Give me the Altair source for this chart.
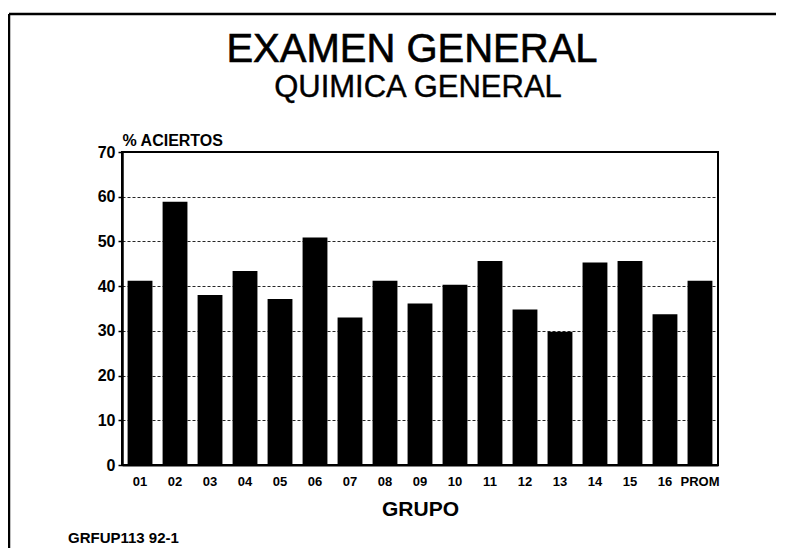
import altair as alt
import pandas as pd

# --- data ---
grupos = ["01", "02", "03", "04", "05", "06", "07", "08", "09", "10",
          "11", "12", "13", "14", "15", "16", "PROM"]
aciertos = [41.2, 58.9, 38.0, 43.4, 37.1, 50.9, 33.0, 41.2, 36.1, 40.3,
            45.6, 34.8, 29.8, 45.3, 45.6, 33.7, 41.2]
y_ticks = [0, 10, 20, 30, 40, 50, 60, 70]

titulo = "EXAMEN GENERAL"
subtitulo = "QUIMICA GENERAL"
pie = "GRFUP113 92-1"

FONT = "Liberation Sans"
W, H = 596, 313

df = pd.DataFrame({"grupo": grupos, "pct": aciertos})

bars = alt.Chart(df).mark_bar(color="black").encode(
    x=alt.X("grupo:N", sort=None,
            scale=alt.Scale(paddingInner=0.29, paddingOuter=0.16),
            axis=alt.Axis(title="GRUPO", labelAngle=0, ticks=False,
                          labelFont=FONT, labelFontWeight="bold", labelFontSize=13,
                          labelColor="black", labelPadding=10,
                          domainColor="black", domainWidth=2,
                          titleFont=FONT, titleFontWeight="bold", titleFontSize=21,
                          titleColor="black", titleY=50, titleBaseline="alphabetic",
                          grid=False)),
    y=alt.Y("pct:Q",
            scale=alt.Scale(domain=[0, 70], nice=False),
            axis=alt.Axis(title="% ACIERTOS", values=y_ticks,
                          labelFont=FONT, labelFontWeight="bold", labelFontSize=16,
                          labelColor="black", labelPadding=3,
                          tickSize=4, tickColor="black", tickWidth=1.5,
                          domainColor="black", domainWidth=2.5,
                          grid=True, gridColor="black", gridDash=[3, 2],
                          gridWidth=1.2, gridOpacity=0.85,
                          titleAngle=0, titleAlign="left", titleX=0, titleY=-7,
                          titleBaseline="alphabetic",
                          titleFont=FONT, titleFontWeight="bold", titleFontSize=16,
                          titleColor="black")),
)

one = lambda s: pd.DataFrame({"t": [s]})

title_txt = alt.Chart(one(titulo)).mark_text(
    font=FONT, fontSize=40, color="black", align="center", baseline="alphabetic",
    stroke="black", strokeWidth=0.6
).encode(text="t:N", x=alt.value(290), y=alt.value(-90))

sub_txt = alt.Chart(one(subtitulo)).mark_text(
    font=FONT, fontSize=31, color="black", align="center", baseline="alphabetic",
    stroke="black", strokeWidth=0.4
).encode(text="t:N", x=alt.value(296), y=alt.value(-55))

foot_txt = alt.Chart(one(pie)).mark_text(
    font=FONT, fontSize=15, fontWeight="bold", color="black", align="left",
    baseline="alphabetic"
).encode(text="t:N", x=alt.value(-54), y=alt.value(391))

frame_top = alt.Chart(one("a")).mark_rule(color="black", strokeWidth=2.5).encode(
    x=alt.value(-113), x2=alt.value(654), y=alt.value(-138))
frame_left = alt.Chart(one("b")).mark_rule(color="black", strokeWidth=2.5).encode(
    x=alt.value(-113), y=alt.value(-138), y2=alt.value(396))

chart = alt.layer(bars, title_txt, sub_txt, foot_txt, frame_top, frame_left).properties(
    width=W, height=H,
    autosize=alt.AutoSizeParams(type="none"),
    padding={"left": 114, "top": 144, "right": 60, "bottom": 83},
    background="white",
).configure_view(stroke="black", strokeWidth=2)

chart.save("out.html", embed_options={"renderer": "svg", "actions": False})
